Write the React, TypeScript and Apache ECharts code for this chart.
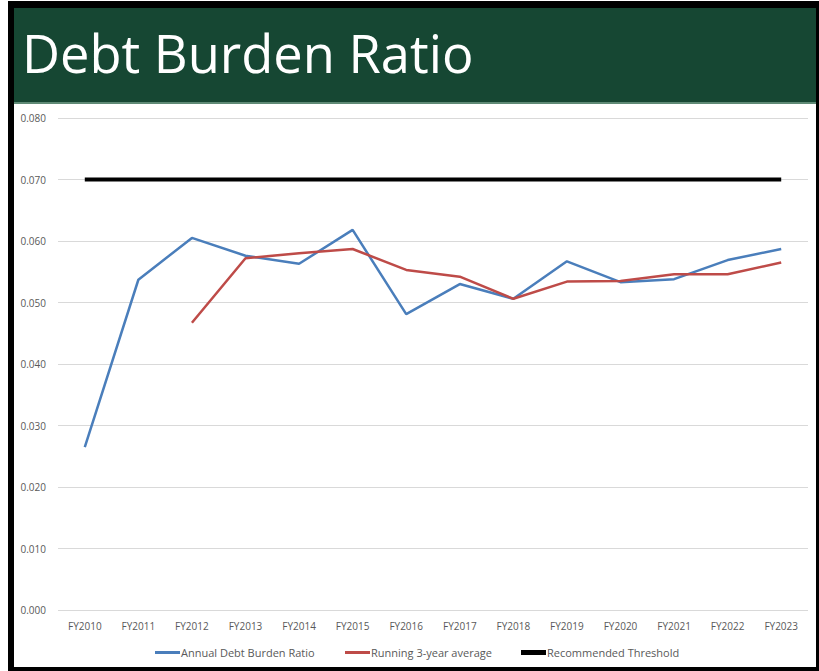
import React, { useEffect, useRef } from "react";
import * as echarts from "echarts";

const categories = ["FY2010","FY2011","FY2012","FY2013","FY2014","FY2015","FY2016","FY2017","FY2018","FY2019","FY2020","FY2021","FY2022","FY2023"];
const annualRatio = [0.0265,0.0537,0.0605,0.0576,0.0563,0.0618,0.0481,0.0530,0.0506,0.0567,0.0533,0.0538,0.0569,0.0587];
const runningAvg = [null,null,0.0467,0.0572,0.0580,0.0587,0.0553,0.0542,0.0506,0.0534,0.0535,0.0546,0.0546,0.0565];
const threshold = [0.07,0.07,0.07,0.07,0.07,0.07,0.07,0.07,0.07,0.07,0.07,0.07,0.07,0.07];
const seriesNames = ["Annual Debt Burden Ratio","Running 3-year average","Recommended Threshold"];
const title = "Debt Burden Ratio";

const FONT = "'Open Sans', 'Liberation Sans', sans-serif";
const LABEL = "#595959";

export default function App() {
  const ref = useRef<HTMLDivElement>(null);
  useEffect(() => {
    if (!ref.current) return;
    const chart = echarts.init(ref.current, null, { renderer: "svg" });
    const legendCommon = {
      top: 647,
      padding: 0,
      itemWidth: 25,
      itemGap: 5,
      icon: "rect",
      textStyle: { color: LABEL, fontSize: 11, fontFamily: FONT, padding: [0, 0, 0, -4] },
      selectedMode: false,
    };
    chart.setOption({
      animation: false,
      backgroundColor: "#ffffff",
      graphic: [
        { type: "rect", shape: { x: 0, y: 0, width: 819, height: 671 }, style: { fill: "#ffffff" }, z: -10 },
        { type: "rect", shape: { x: 8, y: 1, width: 811, height: 670 }, style: { fill: "#000000" }, z: -9 },
        { type: "rect", shape: { x: 14, y: 8, width: 802, height: 659 }, style: { fill: "#ffffff" }, z: -8 },
        { type: "rect", shape: { x: 14, y: 8, width: 802, height: 95 }, style: { fill: "#164733" }, z: -7 },
        { type: "rect", shape: { x: 14, y: 102, width: 802, height: 2 }, style: { fill: "#5f8a76" }, z: -7 },
        {
          type: "text",
          left: 22,
          top: 25,
          scaleX: 0.98,
          style: { text: title, fill: "#ffffff", fontSize: 53.5, fontFamily: FONT },
          z: 10,
        },
      ],
      legend: [
        { ...legendCommon, left: 155, itemHeight: 3, data: [seriesNames[0]] },
        { ...legendCommon, left: 345, itemHeight: 3, data: [seriesNames[1]] },
        { ...legendCommon, left: 521, itemHeight: 5, data: [seriesNames[2]] },
      ],
      grid: { left: 58, right: 11, top: 118, bottom: 61, containLabel: false },
      xAxis: {
        type: "category",
        data: categories,
        boundaryGap: true,
        axisLine: { show: false },
        axisTick: { show: false },
        axisLabel: { color: LABEL, fontSize: 10, fontFamily: FONT, margin: 11 },
      },
      yAxis: {
        type: "value",
        min: 0,
        max: 0.08,
        interval: 0.01,
        axisLine: { show: false },
        axisTick: { show: false },
        splitLine: { lineStyle: { color: "#d9d9d9", width: 1 } },
        axisLabel: {
          color: LABEL,
          fontSize: 10,
          fontFamily: FONT,
          margin: 12,
          formatter: (v: number) => v.toFixed(3),
        },
      },
      series: [
        {
          name: seriesNames[0],
          type: "line",
          data: annualRatio,
          symbol: "none",
          color: "#4a7ebb",
          lineStyle: { color: "#4a7ebb", width: 2.5 },
          z: 3,
        },
        {
          name: seriesNames[1],
          type: "line",
          data: runningAvg,
          symbol: "none",
          color: "#be4b48",
          lineStyle: { color: "#be4b48", width: 2.5 },
          z: 4,
        },
        {
          name: seriesNames[2],
          type: "line",
          data: threshold,
          symbol: "none",
          color: "#000000",
          lineStyle: { color: "#000000", width: 4 },
          z: 2,
        },
      ],
    });
    return () => chart.dispose();
  }, []);
  return (
    <div
      ref={ref}
      style={{ position: "absolute", left: 0, top: 0, width: 819, height: 671 }}
    />
  );
}
